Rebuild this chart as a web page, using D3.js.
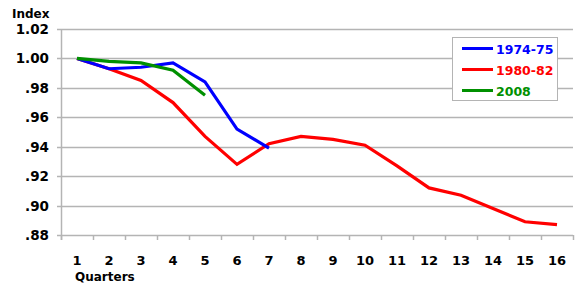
<!DOCTYPE html>
<html>
<head>
<meta charset="utf-8">
<script src="https://cdn.jsdelivr.net/npm/d3@7"></script>
<style>
  body { margin: 0; background: #fff; }
  svg { display: block; font-family: "DejaVu Sans", Verdana, sans-serif; font-weight: bold; }
</style>
</head>
<body>
<svg width="578" height="292"></svg>
<script>
// quarters on the x axis
var quarters = d3.range(1, 17);
var yTicks = [0.88, 0.90, 0.92, 0.94, 0.96, 0.98, 1.00, 1.02];

// index values
var s1974 = [1.000, 0.993, 0.994, 0.997, 0.984, 0.952, 0.939];
var s1980 = [1.000, 0.993, 0.985, 0.970, 0.947, 0.928, 0.942, 0.947, 0.945, 0.941, 0.927, 0.912, 0.907, 0.898, 0.889, 0.887];
var s2008 = [1.000, 0.998, 0.997, 0.992, 0.975];

var seriesNames = ["1974-75", "1980-82", "2008"];
var seriesColors = ["#0000ff", "#ff0000", "#009000"];
var seriesData = [s1974, s1980, s2008];

var svg = d3.select("svg");
var plotLeft = 61, plotRight = 573, plotTop = 29, plotBottom = 235;

var x = d3.scaleBand().domain(quarters).range([plotLeft, plotRight]);
var y = d3.scaleLinear().domain([0.88, 1.02]).range([plotBottom, plotTop]);

function fmt(d) {
  var s = d3.format(".2f")(d);
  return d < 1 ? s.replace(/^0/, "") : s;
}

// horizontal grid
svg.append("g")
  .selectAll("line")
  .data(yTicks)
  .enter().append("line")
    .attr("x1", plotLeft - 4)
    .attr("x2", plotRight)
    .attr("y1", function(d) { return Math.round(y(d)) + 0.5; })
    .attr("y2", function(d) { return Math.round(y(d)) + 0.5; })
    .attr("stroke", "#b4b4b4")
    .attr("stroke-width", 1.5);

// y axis line
svg.append("line")
  .attr("x1", plotLeft + 0.5).attr("x2", plotLeft + 0.5)
  .attr("y1", plotTop).attr("y2", plotBottom + 5)
  .attr("stroke", "#b4b4b4").attr("stroke-width", 1.5);

// x tick marks at band edges
var edges = quarters.map(function(q) { return x(q); }).concat([plotRight]);
svg.append("g")
  .selectAll("line")
  .data(edges)
  .enter().append("line")
    .attr("x1", function(d) { return Math.round(d) + 0.5; })
    .attr("x2", function(d) { return Math.round(d) + 0.5; })
    .attr("y1", plotBottom)
    .attr("y2", plotBottom + 5)
    .attr("stroke", "#b4b4b4")
    .attr("stroke-width", 1.5);

// y labels
svg.append("g")
  .selectAll("text")
  .data(yTicks)
  .enter().append("text")
    .attr("x", 49)
    .attr("y", function(d) { return y(d) + 5; })
    .attr("text-anchor", "end")
    .attr("font-size", 13.5)
    .text(fmt);

// x labels
svg.append("g")
  .selectAll("text")
  .data(quarters)
  .enter().append("text")
    .attr("x", function(d) { return x(d) + x.bandwidth() / 2; })
    .attr("y", 265)
    .attr("text-anchor", "middle")
    .attr("font-size", 13)
    .text(function(d) { return d; });

svg.append("text").attr("x", 12).attr("y", 18).attr("font-size", 12).text("Index");
svg.append("text").attr("x", 75).attr("y", 281).attr("font-size", 12).text("Quarters");

// series lines
var line = d3.line()
  .x(function(d, i) { return x(quarters[i]) + x.bandwidth() / 2; })
  .y(function(d) { return y(d); });

// draw 1980-82 first, then 1974-75, then 2008 on top
[1, 0, 2].forEach(function(k) {
  svg.append("path")
    .datum(seriesData[k])
    .attr("d", line)
    .attr("fill", "none")
    .attr("stroke", seriesColors[k])
    .attr("stroke-width", 3.2);
});

// legend
var lg = svg.append("g").attr("transform", "translate(452,37)");
lg.append("rect")
  .attr("x", 0.5).attr("y", 0.5)
  .attr("width", 105).attr("height", 63)
  .attr("fill", "#fff")
  .attr("stroke", "#b4b4b4");

var item = lg.selectAll("g.item")
  .data(seriesNames)
  .enter().append("g")
    .attr("class", "item")
    .attr("transform", function(d, i) { return "translate(0," + (11.5 + i * 21) + ")"; });

item.append("line")
  .attr("x1", 10).attr("x2", 41)
  .attr("stroke", function(d, i) { return seriesColors[i]; })
  .attr("stroke-width", 3);

item.append("text")
  .attr("x", 44)
  .attr("y", 5)
  .attr("font-size", 12.5)
  .attr("fill", function(d, i) { return seriesColors[i]; })
  .text(function(d) { return d; });
</script>
</body>
</html>
